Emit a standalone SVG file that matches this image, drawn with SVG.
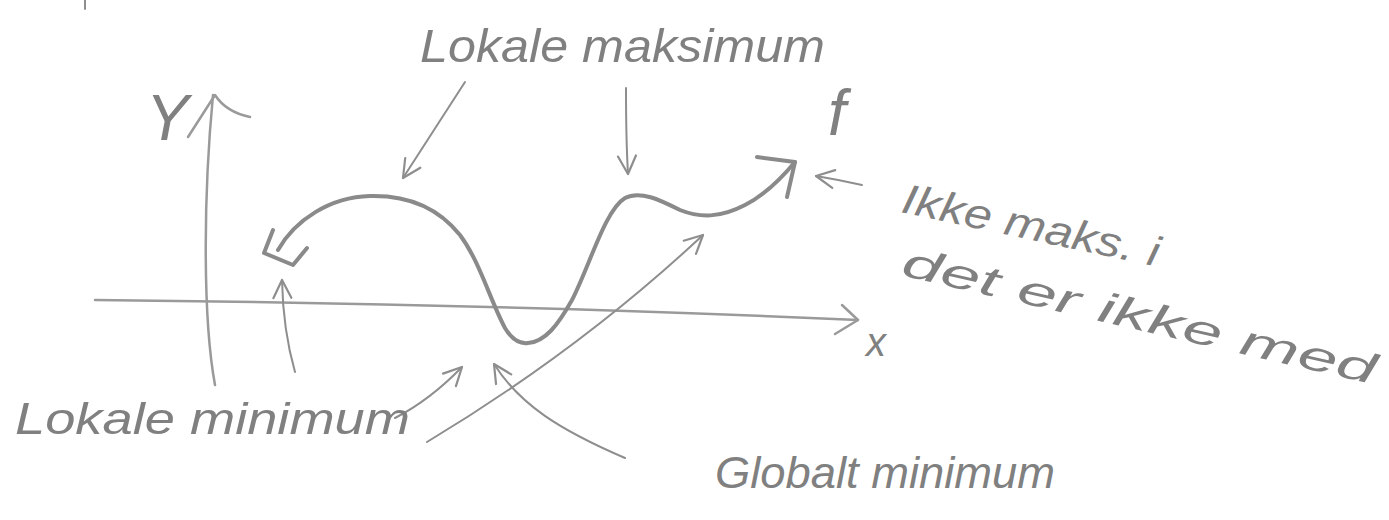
<svg xmlns="http://www.w3.org/2000/svg" width="1389" height="520" viewBox="0 0 1389 520">
<style>
.lbl{font-family:"Liberation Sans","DejaVu Sans",sans-serif;fill:#808080;font-style:italic}
.ln{fill:none;stroke:#8e8e8e;stroke-width:2;stroke-linecap:round;stroke-linejoin:round}
.ax{fill:none;stroke:#9a9a9a;stroke-width:2.5;stroke-linecap:round;stroke-linejoin:round}
.crv{fill:none;stroke:#8a8a8a;stroke-width:4;stroke-linecap:round;stroke-linejoin:round}
</style>
<defs>
<marker id="arr" markerUnits="userSpaceOnUse" markerWidth="26" markerHeight="26" refX="21" refY="12" orient="auto" viewBox="0 0 26 26">
<path d="M3,3 L21,12 L3,21" fill="none" stroke="#8e8e8e" stroke-width="2.2" stroke-linecap="round" stroke-linejoin="round"/>
</marker>
</defs>
<rect width="1389" height="520" fill="#ffffff"/>
<line x1="85" y1="0" x2="85" y2="9" class="ln"/>
<g id="axes">
<path class="ax" d="M215,385 C203,320 203,200 213,95"/>
<path class="ax" d="M188,137 L215,95 Q226,112 250,117"/>
<path class="ax" d="M95,300 Q500,304 858,320"/>
<path class="ax" d="M842,305 L858,320 L835,334"/>
</g>
<g id="curve-f">
<path class="crv" d="M278,250 C295,220 330,197 370,196 C410,195 440,210 460,235 C480,262 490,300 505,328 C512,340 520,344 528,343 C545,342 558,325 572,300 C590,265 605,210 625,198 C640,190 660,200 680,210 C700,218 720,218 745,205 C765,195 780,180 795,162"/>
<path class="crv" d="M757,157 L795,162 L787,197"/>
<path class="crv" stroke-width="3" d="M273,230 L264,253 L293,265 L307,248"/>
</g>
<g id="connectors">
<path class="ln" marker-end="url(#arr)" d="M465,82 L403,178"/>
<path class="ln" marker-end="url(#arr)" d="M626,88 Q626,140 628,174"/>
<path class="ln" marker-end="url(#arr)" d="M862,185 Q840,180 816,176"/>
<path class="ln" marker-end="url(#arr)" d="M295,372 Q283,330 282,280"/>
<path class="ln" marker-end="url(#arr)" d="M395,418 Q430,400 462,367"/>
<path class="ln" marker-end="url(#arr)" d="M427,442 Q580,350 703,235"/>
<path class="ln" marker-end="url(#arr)" d="M625,458 C560,430 520,405 494,364"/>
</g>
<g id="label-y"><text class="lbl" x="146" y="140" font-size="64">Y</text></g>
<g id="label-x"><text class="lbl" x="866" y="356" font-size="40">x</text></g>
<g id="label-f"><text class="lbl" x="828" y="135" font-size="64">f</text></g>
<g id="label-lokale-maksimum"><text class="lbl" x="420" y="62" font-size="46" textLength="405" lengthAdjust="spacingAndGlyphs">Lokale maksimum</text></g>
<g id="label-ikke-maks">
<text class="lbl" x="900" y="212" font-size="42" transform="rotate(12 900 212)" textLength="262" lengthAdjust="spacingAndGlyphs">Ikke maks. i</text>
<text class="lbl" x="900" y="275" font-size="42" transform="rotate(13 900 275)" textLength="485" lengthAdjust="spacingAndGlyphs">det er ikke med</text>
</g>
<g id="label-lokale-minimum"><text class="lbl" x="15" y="434" font-size="44" textLength="395" lengthAdjust="spacingAndGlyphs">Lokale minimum</text></g>
<g id="label-globalt-minimum"><text class="lbl" x="715" y="488" font-size="44" textLength="340" lengthAdjust="spacingAndGlyphs">Globalt minimum</text></g>
</svg>
